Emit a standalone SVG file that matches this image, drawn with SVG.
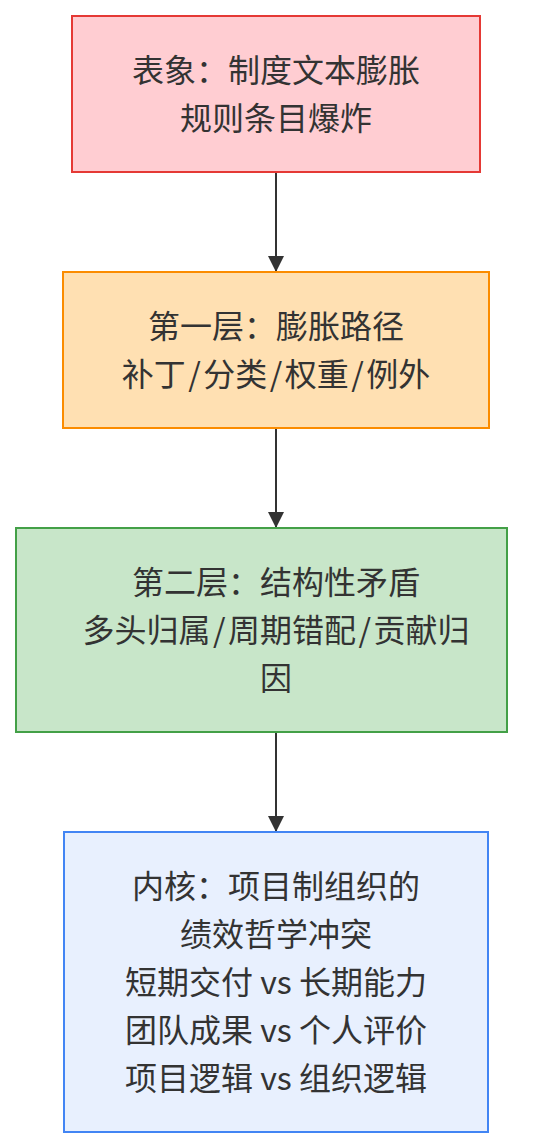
<svg xmlns="http://www.w3.org/2000/svg" width="552" height="1148" viewBox="0 0 552 1148">
<style>
.n{stroke-width:2}
.t{font-family:"Noto Sans CJK SC","Noto Sans",sans-serif;font-size:32px;fill:#333;text-anchor:middle}
.e{stroke:#333;stroke-width:2;fill:none}
</style>
<defs>
<marker id="arr" viewBox="0 0 16 16" refX="16" refY="8" markerWidth="16" markerHeight="16" markerUnits="userSpaceOnUse" orient="auto">
<path d="M0,0 L16,8 L0,16 Z" fill="#333"/>
</marker>
</defs>
<rect width="552" height="1148" fill="#fff"/>
<g id="connectors">
<line class="e" x1="276" y1="172" x2="276" y2="272" marker-end="url(#arr)"/>
<line class="e" x1="276" y1="428" x2="276" y2="528" marker-end="url(#arr)"/>
<line class="e" x1="276" y1="732" x2="276" y2="832" marker-end="url(#arr)"/>
</g>
<g id="n1">
<rect class="n" x="72" y="16" width="408" height="156" fill="#ffcdd2" stroke="#e53935"/>
<text class="t" x="276" y="82">表象：制度文本膨胀</text>
<text class="t" x="276" y="130">规则条目爆炸</text>
</g>
<g id="n2">
<rect class="n" x="63" y="272" width="426" height="156" fill="#ffe0b2" stroke="#fb8c00"/>
<text class="t" x="276" y="338">第一层：膨胀路径</text>
<text class="t" x="276" y="386">补丁<tspan dx="2.5">/</tspan><tspan dx="2.5">分类</tspan><tspan dx="2.5">/</tspan><tspan dx="2.5">权重</tspan><tspan dx="2.5">/</tspan><tspan dx="2.5">例外</tspan></text>
</g>
<g id="n3">
<rect class="n" x="16" y="528" width="491" height="204" fill="#c8e6c9" stroke="#43a047"/>
<text class="t" x="276" y="594">第二层：结构性矛盾</text>
<text class="t" x="276" y="642">多头归属<tspan dx="2.5">/</tspan><tspan dx="2.5">周期错配</tspan><tspan dx="2.5">/</tspan><tspan dx="2.5">贡献归</tspan></text>
<text class="t" x="276" y="690">因</text>
</g>
<g id="n4">
<rect class="n" x="64" y="832" width="424" height="300" fill="#e8f0fe" stroke="#4285f4"/>
<text class="t" x="276" y="898">内核：项目制组织的</text>
<text class="t" x="276" y="946">绩效哲学冲突</text>
<text class="t" x="276" y="994">短期交付 vs 长期能力</text>
<text class="t" x="276" y="1042">团队成果 vs 个人评价</text>
<text class="t" x="276" y="1090">项目逻辑 vs 组织逻辑</text>
</g>
</svg>
